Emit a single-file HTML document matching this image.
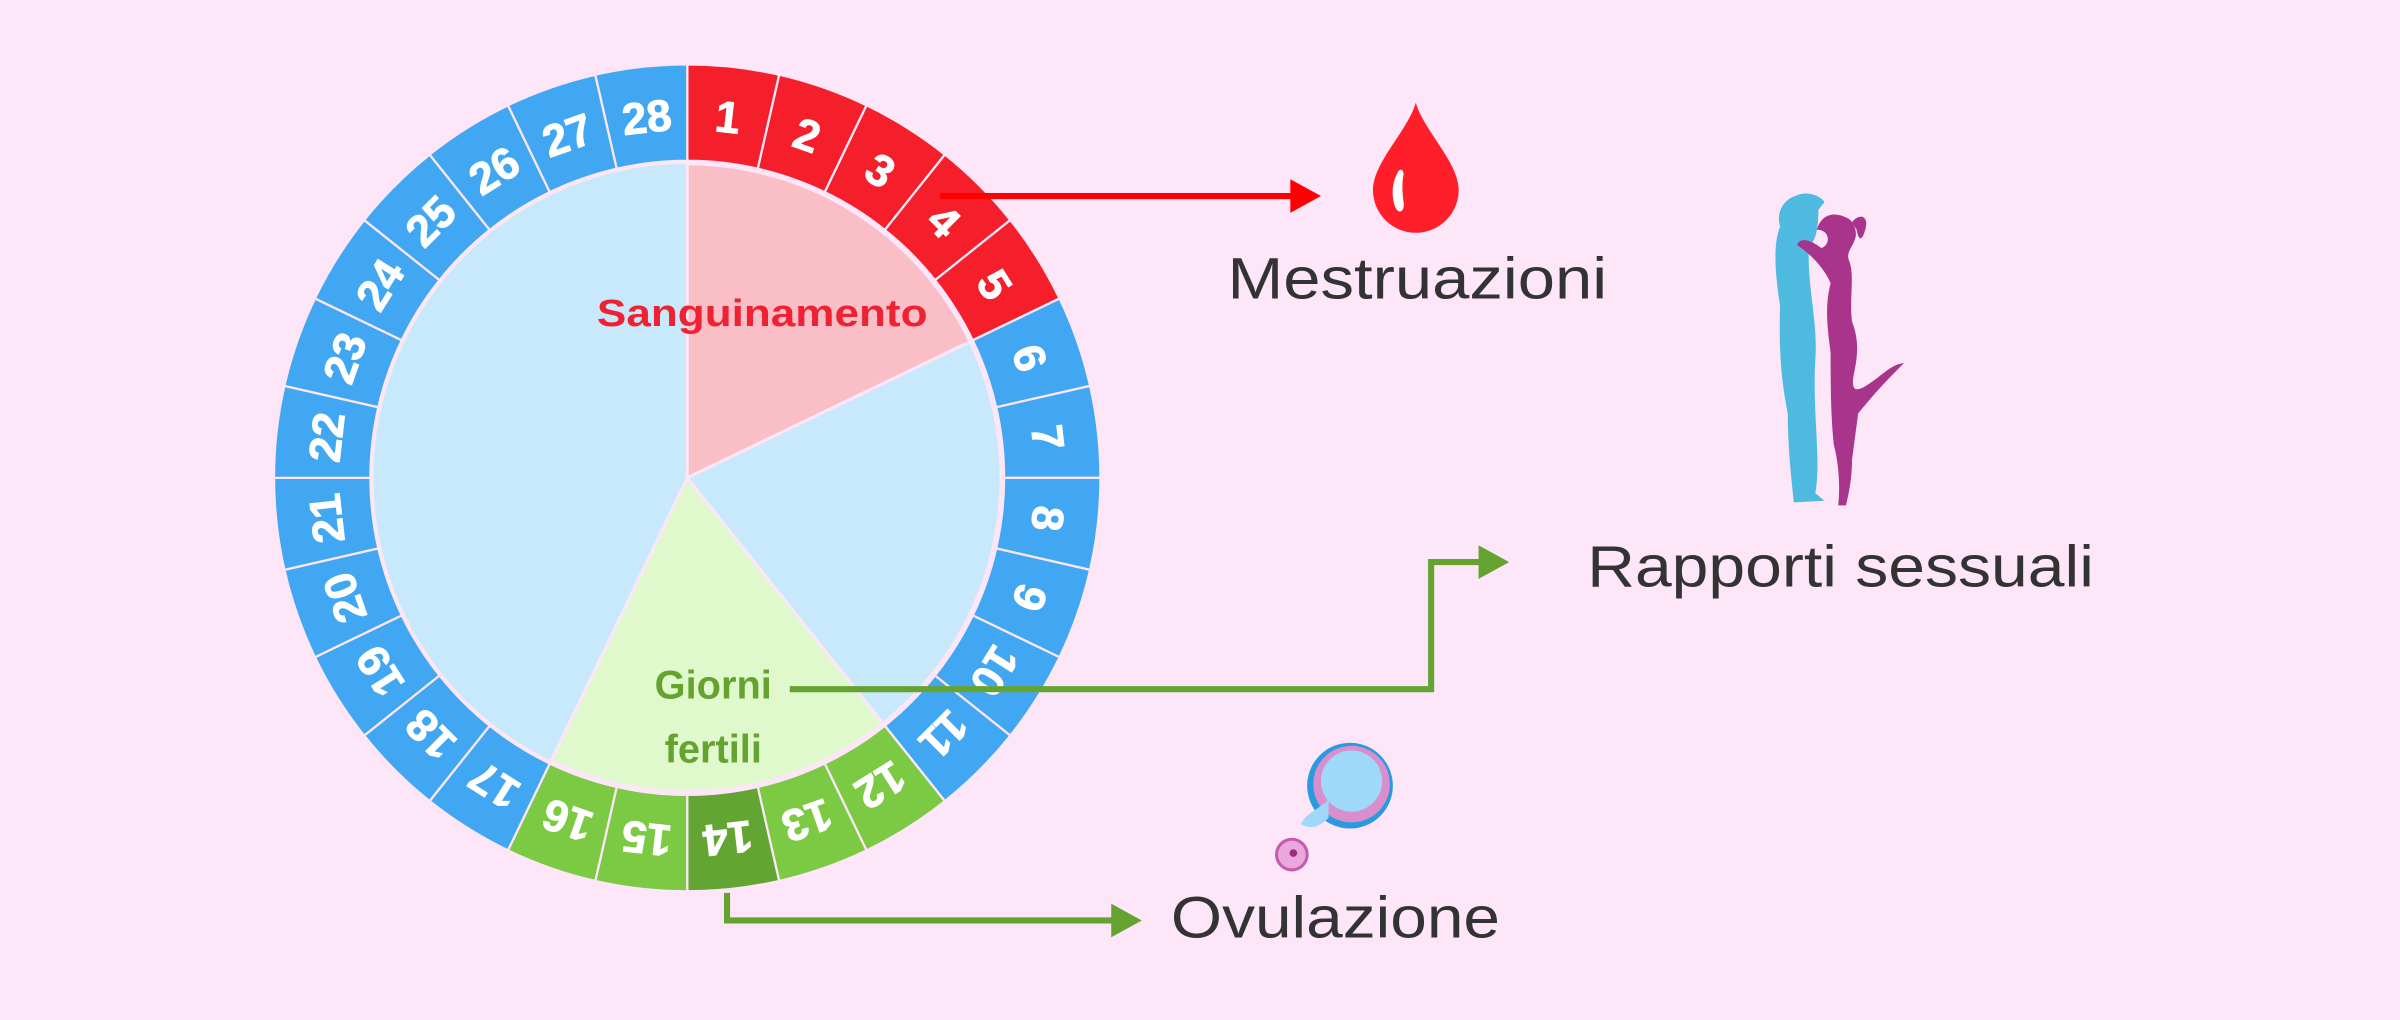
<!DOCTYPE html>
<html><head><meta charset="utf-8"><style>
html,body{margin:0;padding:0;background:#fde6f8;}
svg{display:block;}
</style></head><body>
<svg width="2400" height="1020" viewBox="0 0 1568 666" preserveAspectRatio="none" xmlns="http://www.w3.org/2000/svg">
<rect x="0" y="0" width="1568" height="666" fill="#fde6f8"/>
<defs>
<path id="seg" d="M449,42 A270,270 0 0 1 509.1,48.8 L495.1,110.2 A207,207 0 0 0 449,105 Z" stroke="#fde6f8" stroke-width="1.5"/>
</defs>
<circle cx="449" cy="312" r="208" fill="#fde6f8"/>
<circle cx="449" cy="312" r="205" fill="#c8e8fb"/>
<path d="M449,312 L449,107 A205,205 0 0 1 633.7,223.1 Z" fill="#f9bec6" stroke="#fde6f8" stroke-width="2"/>
<path d="M449,312 L633.7,223.1 A205,205 0 0 1 576.8,472.3 Z" fill="#c8e8fb" stroke="#fde6f8" stroke-width="2"/>
<path d="M449,312 L576.8,472.3 A205,205 0 0 1 360.1,496.7 Z" fill="#e0f9cc" stroke="#fde6f8" stroke-width="2"/>
<g font-family="Liberation Sans, sans-serif" font-weight="bold" font-size="29" fill="#fff" text-anchor="middle" stroke="#fff" stroke-width="0.6">
<g transform="rotate(0 449 312)"><use href="#seg" fill="#f41f2b"/><text transform="rotate(6.43 449 312)" x="449" y="85">1</text></g>
<g transform="rotate(12.857 449 312)"><use href="#seg" fill="#f41f2b"/><text transform="rotate(6.43 449 312)" x="449" y="85">2</text></g>
<g transform="rotate(25.714 449 312)"><use href="#seg" fill="#f41f2b"/><text transform="rotate(6.43 449 312)" x="449" y="85">3</text></g>
<g transform="rotate(38.571 449 312)"><use href="#seg" fill="#f41f2b"/><text transform="rotate(6.43 449 312)" x="449" y="85">4</text></g>
<g transform="rotate(51.429 449 312)"><use href="#seg" fill="#f41f2b"/><text transform="rotate(6.43 449 312)" x="449" y="85">5</text></g>
<g transform="rotate(64.286 449 312)"><use href="#seg" fill="#42a7f2"/><text transform="rotate(6.43 449 312)" x="449" y="85">6</text></g>
<g transform="rotate(77.143 449 312)"><use href="#seg" fill="#42a7f2"/><text transform="rotate(6.43 449 312)" x="449" y="85">7</text></g>
<g transform="rotate(90 449 312)"><use href="#seg" fill="#42a7f2"/><text transform="rotate(6.43 449 312)" x="449" y="85">8</text></g>
<g transform="rotate(102.857 449 312)"><use href="#seg" fill="#42a7f2"/><text transform="rotate(6.43 449 312)" x="449" y="85">9</text></g>
<g transform="rotate(115.714 449 312)"><use href="#seg" fill="#42a7f2"/><text transform="rotate(6.43 449 312)" x="449" y="85">10</text></g>
<g transform="rotate(128.571 449 312)"><use href="#seg" fill="#42a7f2"/><text transform="rotate(6.43 449 312)" x="449" y="85">11</text></g>
<g transform="rotate(141.429 449 312)"><use href="#seg" fill="#7cc943"/><text transform="rotate(6.43 449 312)" x="449" y="85">12</text></g>
<g transform="rotate(154.286 449 312)"><use href="#seg" fill="#7cc943"/><text transform="rotate(6.43 449 312)" x="449" y="85">13</text></g>
<g transform="rotate(167.143 449 312)"><use href="#seg" fill="#63a532"/><text transform="rotate(6.43 449 312)" x="449" y="85">14</text></g>
<g transform="rotate(180 449 312)"><use href="#seg" fill="#7cc943"/><text transform="rotate(6.43 449 312)" x="449" y="85">15</text></g>
<g transform="rotate(192.857 449 312)"><use href="#seg" fill="#7cc943"/><text transform="rotate(6.43 449 312)" x="449" y="85">16</text></g>
<g transform="rotate(205.714 449 312)"><use href="#seg" fill="#42a7f2"/><text transform="rotate(6.43 449 312)" x="449" y="85">17</text></g>
<g transform="rotate(218.571 449 312)"><use href="#seg" fill="#42a7f2"/><text transform="rotate(6.43 449 312)" x="449" y="85">18</text></g>
<g transform="rotate(231.429 449 312)"><use href="#seg" fill="#42a7f2"/><text transform="rotate(6.43 449 312)" x="449" y="85">19</text></g>
<g transform="rotate(244.286 449 312)"><use href="#seg" fill="#42a7f2"/><text transform="rotate(6.43 449 312)" x="449" y="85">20</text></g>
<g transform="rotate(257.143 449 312)"><use href="#seg" fill="#42a7f2"/><text transform="rotate(6.43 449 312)" x="449" y="85">21</text></g>
<g transform="rotate(270 449 312)"><use href="#seg" fill="#42a7f2"/><text transform="rotate(6.43 449 312)" x="449" y="85">22</text></g>
<g transform="rotate(282.857 449 312)"><use href="#seg" fill="#42a7f2"/><text transform="rotate(6.43 449 312)" x="449" y="85">23</text></g>
<g transform="rotate(295.714 449 312)"><use href="#seg" fill="#42a7f2"/><text transform="rotate(6.43 449 312)" x="449" y="85">24</text></g>
<g transform="rotate(308.571 449 312)"><use href="#seg" fill="#42a7f2"/><text transform="rotate(6.43 449 312)" x="449" y="85">25</text></g>
<g transform="rotate(321.429 449 312)"><use href="#seg" fill="#42a7f2"/><text transform="rotate(6.43 449 312)" x="449" y="85">26</text></g>
<g transform="rotate(334.286 449 312)"><use href="#seg" fill="#42a7f2"/><text transform="rotate(6.43 449 312)" x="449" y="85">27</text></g>
<g transform="rotate(347.143 449 312)"><use href="#seg" fill="#42a7f2"/><text transform="rotate(6.43 449 312)" x="449" y="85">28</text></g>
</g>
<g font-family="Liberation Sans, sans-serif" font-weight="bold" text-anchor="middle">
<text x="498" y="213" font-size="25" fill="#ee2233" textLength="216" lengthAdjust="spacingAndGlyphs">Sanguinamento</text>
<text x="466" y="456" font-size="26" fill="#64a330">Giorni</text>
<text x="466" y="498" font-size="26" fill="#64a330">fertili</text>
</g>
<line x1="614" y1="128" x2="846" y2="128" stroke="#ff0000" stroke-width="4"/>
<polygon points="843,117 863,128 843,139" fill="#ff0000"/>
<polyline points="516,450 935,450 935,367 968,367" fill="none" stroke="#64a330" stroke-width="4"/>
<polygon points="966,356 986,367 966,378" fill="#64a330"/>
<polyline points="475,583 475,601 728,601" fill="none" stroke="#64a330" stroke-width="4"/>
<polygon points="726,590 746,601 726,612" fill="#64a330"/>
<path d="M925,67 C920,85 897,106 897,124 A28,28 0 0 0 953,124 C953,106 930,85 925,67 Z" fill="#ff1f2b"/>
<path d="M913,113 C909,120 909,130 912,136 C914,140 918,138 917,132 C916,125 916,118 917,114 C917,110 914,110 913,113 Z" fill="#fff"/>
<path d="M1173,128 C1180,124 1190,128 1192,132 L1188,137 C1188,150 1186,158 1182,160 C1180,185 1188,210 1186,235 C1184,270 1190,300 1186,322 L1192,327 L1172,328 C1170,310 1168,290 1168,270 C1164,250 1162,230 1163,200 C1160,180 1158,160 1163,148 C1160,138 1166,130 1173,128 Z" fill="#4fbae0"/>
<path d="M1187,150 C1190,140 1198,138 1206,142 C1210,143 1214,150 1212,156 C1210,162 1206,165 1208,170 C1212,180 1208,195 1210,210 C1214,220 1214,230 1212,240 C1210,250 1208,260 1222,250 C1232,243 1236,238 1244,237 C1236,245 1226,255 1214,270 L1210,300 C1210,312 1208,322 1206,330 L1201,330 C1202,320 1202,305 1198,290 C1196,270 1196,250 1196,230 C1194,215 1192,200 1196,185 C1192,175 1182,165 1174,160 C1176,155 1182,156 1190,162 C1196,160 1196,150 1187,150 Z" fill="#a8358b"/>
<path d="M1210,145 C1216,138 1222,142 1218,152 C1216,158 1214,156 1213,150 Z" fill="#a8358b"/>
<circle cx="882" cy="513" r="28" fill="#2a9ae0"/>
<circle cx="883" cy="512" r="25" fill="#d98fce"/>
<circle cx="883" cy="510" r="20" fill="#9fd8f9"/>
<path d="M868,522 C862,528 852,532 850,538 C856,542 862,540 868,534 Z" fill="#9fd8f9"/>
<circle cx="844" cy="558" r="11" fill="#c55bb0"/>
<circle cx="844" cy="558" r="9" fill="#e8a8dc"/>
<circle cx="845" cy="557" r="2.5" fill="#a02a80"/>
<g font-family="Liberation Sans, sans-serif" fill="#333333" font-size="38">
<text x="802" y="195" textLength="248" lengthAdjust="spacingAndGlyphs">Mestruazioni</text>
<text x="1037" y="383" textLength="331" lengthAdjust="spacingAndGlyphs">Rapporti sessuali</text>
<text x="765" y="612" textLength="215" lengthAdjust="spacingAndGlyphs">Ovulazione</text>
</g>
</svg>
</body></html>
